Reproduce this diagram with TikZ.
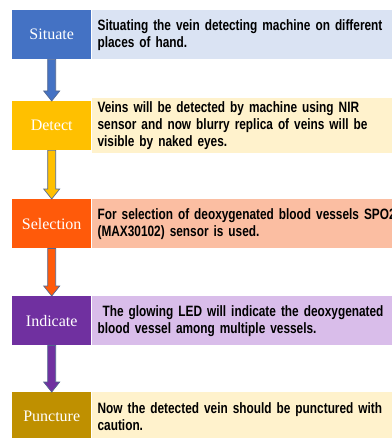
\documentclass[tikz,border=0pt]{standalone}
\usepackage{fontspec}
\usepackage{tikz}
\usetikzlibrary{calc,positioning}
\newfontfamily\labelfont{Liberation Serif}
\newfontfamily\descfont{Liberation Sans}[FakeStretch=0.79]
\definecolor{situateblue}{HTML}{4472C4}\definecolor{situatelight}{HTML}{DAE3F3}
\definecolor{detectyellow}{HTML}{FFC000}\definecolor{detectlight}{HTML}{FFF2CC}
\definecolor{selectorange}{HTML}{FF5A0A}\definecolor{selectlight}{HTML}{FBBEA2}
\definecolor{indicatepurple}{HTML}{7030A0}\definecolor{indicatelight}{HTML}{D9BDEA}
\definecolor{puncturegold}{HTML}{BF9000}\definecolor{puncturelight}{HTML}{FFF2CC}
\definecolor{arrowline}{HTML}{52678F}
\newcommand{\blockarrow}[3]{\filldraw[fill=#3,draw=arrowline,line width=.7pt,line join=miter]
  ($(#1.south)+(-4,0)$)--($(#2.north)+(-4,-10)$)--($(#2.north)+(-8,-10)$)--(#2.north)--($(#2.north)+(8,-10)$)--($(#2.north)+(4,-10)$)--($(#1.south)+(4,0)$)--cycle;}
\begin{document}
\begin{tikzpicture}[x=1pt,y=-1pt,stepbox/.style={anchor=north west,minimum width=79pt,minimum height=49pt,inner sep=0pt,text=white,font=\labelfont\fontsize{16}{18}\selectfont},
descbox/.style={right=0pt of #1,minimum height=49pt,inner xsep=6pt,text width=330pt,align=left,font=\descfont\bfseries\fontsize{15}{17}\selectfont}]
\useasboundingbox (0,0) rectangle (391,438);
\node[stepbox,fill=situateblue] (situate) at (12,10) {Situate};
\node[descbox=situate,fill=situatelight] (situatetxt) {Situating the vein detecting machine on different\\places of hand.};
\node[stepbox,fill=detectyellow] (detect) at (12,101) {Detect};
\node[descbox=detect,fill=detectlight] (detecttxt) {Veins will be detected by machine using NIR\\sensor and now blurry replica of veins will be\\visible by naked eyes.};
\node[stepbox,fill=selectorange] (selection) at (12,199) {Selection};
\node[descbox=selection,fill=selectlight] (selectiontxt) {For selection of deoxygenated blood vessels SPO2\\(MAX30102) sensor is used.};
\node[stepbox,fill=indicatepurple] (indicate) at (12,296) {Indicate};
\node[descbox=indicate,fill=indicatelight] (indicatetxt) {\ The glowing LED will indicate the deoxygenated\\blood vessel among multiple vessels.};
\node[stepbox,fill=puncturegold] (puncture) at (12,392) {Puncture};
\node[descbox=puncture,fill=puncturelight] (puncturetxt) {Now the detected vein should be punctured with\\caution.};
\blockarrow{situate}{detect}{situateblue}\blockarrow{detect}{selection}{detectyellow}
\blockarrow{selection}{indicate}{selectorange}\blockarrow{indicate}{puncture}{indicatepurple}
\end{tikzpicture}
\end{document}
